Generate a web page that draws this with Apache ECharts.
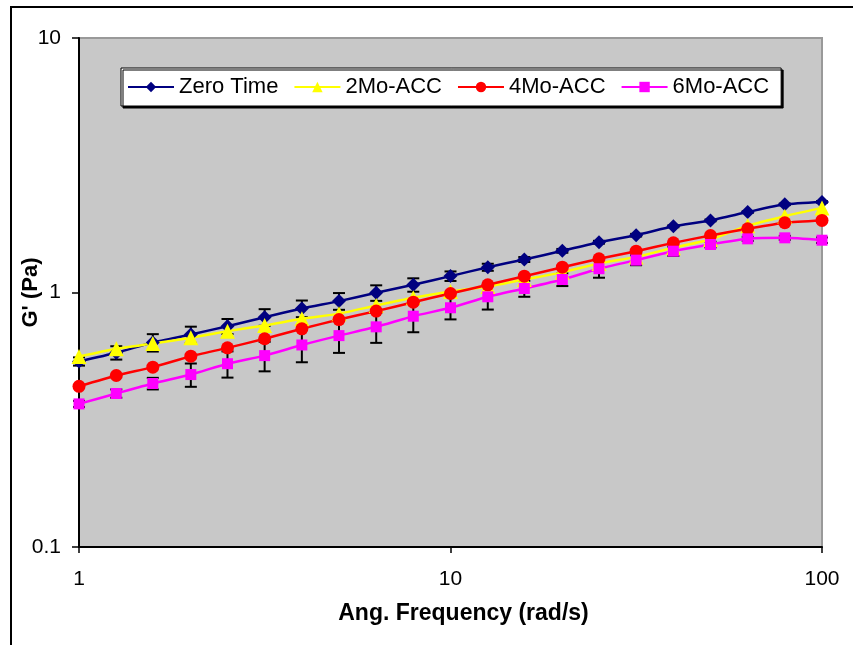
<!DOCTYPE html>
<html>
<head>
<meta charset="utf-8">
<script src="https://cdn.jsdelivr.net/npm/echarts@6/dist/echarts.min.js"></script>
<style>html,body{margin:0;padding:0;background:#fff;}#c{width:853px;height:645px;}</style>
</head>
<body>
<div id="c"></div>
<script>
const freq = [1, 1.26, 1.58, 2, 2.51, 3.16, 3.98, 5.01, 6.31, 7.94, 10, 12.6, 15.8, 20, 25.1, 31.6, 39.8, 50.1, 63.1, 79.4, 100];
const zeroTime = [0.536, 0.58, 0.636, 0.684, 0.737, 0.80, 0.865, 0.925, 0.997, 1.072, 1.16, 1.257, 1.348, 1.458, 1.576, 1.68, 1.82, 1.92, 2.07, 2.22, 2.27];
const mo2 = [0.56, 0.601, 0.63, 0.664, 0.705, 0.742, 0.788, 0.826, 0.889, 0.953, 1.01, 1.056, 1.125, 1.20, 1.30, 1.38, 1.50, 1.615, 1.83, 1.995, 2.15];
const mo4 = [0.428, 0.472, 0.509, 0.562, 0.606, 0.658, 0.72, 0.783, 0.845, 0.916, 0.991, 1.072, 1.159, 1.257, 1.356, 1.453, 1.567, 1.675, 1.78, 1.88, 1.92];
const mo6 = [0.365, 0.401, 0.439, 0.476, 0.525, 0.565, 0.622, 0.677, 0.733, 0.807, 0.871, 0.962, 1.037, 1.125, 1.24, 1.34, 1.453, 1.544, 1.625, 1.64, 1.605];
const errZero = [0.02, 0.035, 0.05, 0.05, 0.05, 0.06, 0.065, 0.07, 0.07, 0.065, 0.05, 0.04, 0.03, 0.025, 0.02, 0.02, 0.015, 0.015, 0.015, 0.015, 0.015];
const err6 = [0.01, 0.015, 0.023, 0.05, 0.062, 0.075, 0.09, 0.098, 0.099, 0.109, 0.087, 0.105, 0.075, 0.065, 0.097, 0.06, 0.06, 0.04, 0.03, 0.03, 0.04];
const seriesNames = ['Zero Time', '2Mo-ACC', '4Mo-ACC', '6Mo-ACC'];
const xTicks = [1, 10, 100];
const yTicks = [0.1, 1, 10];

const FONT = 'Liberation Sans, Arial, sans-serif';
const chart = echarts.init(document.getElementById('c'), null, {renderer: 'canvas'});

function pairs(ys) { return freq.map((f, i) => [f, ys[i]]); }
function errData(ys, es) { return freq.map((f, i) => [f, ys[i], es[i]]); }

function errRender(params, api) {
  const x = api.value(0), y = api.value(1), e = api.value(2);
  const t = api.coord([x, y + e]);
  const b = api.coord([x, y - e]);
  const w = 6;
  const st = {stroke: '#000', lineWidth: 2};
  return {
    type: 'group',
    children: [
      {type: 'line', shape: {x1: t[0], y1: t[1], x2: b[0], y2: b[1]}, style: st},
      {type: 'line', shape: {x1: t[0] - w, y1: t[1], x2: t[0] + w, y2: t[1]}, style: st},
      {type: 'line', shape: {x1: b[0] - w, y1: b[1], x2: b[0] + w, y2: b[1]}, style: st}
    ]
  };
}

const colors = ['#000080', '#ffff00', '#ff0000', '#ff00ff'];
const symbols = ['diamond', 'triangle', 'circle', 'rect'];
const sizes = [14, 15, 13, 11];
const vals = [zeroTime, mo2, mo4, mo6];

const lineSeries = seriesNames.map((n, i) => ({
  name: n,
  type: 'line',
  data: pairs(vals[i]),
  smooth: 0.2,
  symbol: symbols[i],
  symbolSize: sizes[i],
  showAllSymbol: true,
  z: 3,
  lineStyle: {color: colors[i], width: 2.5},
  itemStyle: {color: colors[i]},
  emphasis: {disabled: true}
}));

const option = {
  animation: false,
  backgroundColor: '#fff',
  graphic: [{
    type: 'rect', shape: {x: 11, y: 7, width: 1000, height: 1000},
    style: {fill: 'none', stroke: '#000', lineWidth: 2}, z: 100
  }],
  grid: {left: 79, right: 31, top: 38, bottom: 98, show: true, backgroundColor: '#c8c8c8', borderColor: '#999', borderWidth: 2},
  legend: {
    data: seriesNames,
    left: 121, top: 68,
    orient: 'horizontal',
    backgroundColor: '#fff',
    borderColor: '#000', borderWidth: 1,
    shadowColor: '#000', shadowOffsetX: 2, shadowOffsetY: 2, shadowBlur: 0,
    padding: [8, 12, 8, 6],
    itemWidth: 46, itemHeight: 13, itemGap: 15,
    textStyle: {fontFamily: FONT, fontSize: 22, color: '#000'},
    selectedMode: false
  },
  xAxis: {
    type: 'log', logBase: 10, min: 1, max: 100,
    name: 'Ang. Frequency (rad/s)', nameLocation: 'middle', nameGap: 55,
    nameMoveOverlap: false,
    nameTextStyle: {fontFamily: FONT, fontSize: 23, fontWeight: 'bold', color: '#000', padding: [0, 0, 0, 26]},
    axisLine: {show: true, lineStyle: {color: '#000', width: 2}},
    axisTick: {show: true, length: 6, lineStyle: {color: '#000', width: 1.5}},
    minorTick: {show: false},
    splitLine: {show: false},
    axisLabel: {fontFamily: FONT, fontSize: 21, color: '#000', margin: 22,
      formatter: v => { const t = xTicks.find(k => Math.abs(k - v) < 1e-6 * k); return t !== undefined ? String(t) : ''; }}
  },
  yAxis: {
    type: 'log', logBase: 10, min: 0.1, max: 10,
    name: "G' (Pa)", nameLocation: 'middle', nameGap: 37,
    nameMoveOverlap: false,
    nameTextStyle: {fontFamily: FONT, fontSize: 22, fontWeight: 'bold', color: '#000'},
    axisLine: {show: true, lineStyle: {color: '#000', width: 2}},
    axisTick: {show: true, length: 7, lineStyle: {color: '#000', width: 1.5}},
    minorTick: {show: false},
    splitLine: {show: false},
    axisLabel: {fontFamily: FONT, fontSize: 21, color: '#000', margin: 18,
      formatter: v => { const t = yTicks.find(k => Math.abs(k - v) < 1e-6 * k); return t !== undefined ? String(t) : ''; }}
  },
  series: [
    {type: 'custom', name: 'errZero', renderItem: errRender, data: errData(zeroTime, errZero), encode: {x: 0, y: 1}, z: 2, silent: true},
    {type: 'custom', name: 'err6', renderItem: errRender, data: errData(mo6, err6), encode: {x: 0, y: 1}, z: 2, silent: true}
  ].concat(lineSeries)
};
chart.setOption(option);
</script>
</body>
</html>
